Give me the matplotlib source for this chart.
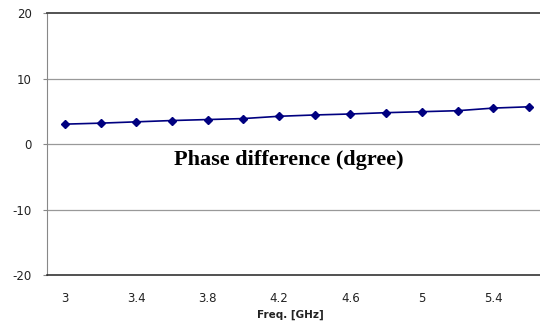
import numpy as np
import matplotlib.pyplot as plt

freq = [3.0, 3.2, 3.4, 3.6, 3.8, 4.0, 4.2, 4.4, 4.6, 4.8, 5.0, 5.2, 5.4, 5.6]
phase = [3.05, 3.2, 3.4, 3.6, 3.75, 3.9, 4.25, 4.45, 4.6, 4.8, 4.95, 5.1, 5.5, 5.7]
xticks = [3, 3.4, 3.8, 4.2, 4.6, 5, 5.4]
yticks = [-20, -10, 0, 10, 20]

fig = plt.figure(figsize=(5.4, 3.29), dpi=100)
ax = fig.add_axes([0.087, 0.164, 0.913, 0.796])

ax.plot(freq, phase, color='#000080', marker='D', markersize=4.5, linewidth=1.2)

ax.set_xlim(2.9, 5.662)
ax.set_ylim(-20, 20)
ax.set_xticks(xticks)
ax.set_xticklabels(['3', '3.4', '3.8', '4.2', '4.6', '5', '5.4'])
ax.set_yticks(yticks)
ax.set_yticklabels(['-20', '-10', '0', '10', '20'])
ax.tick_params(axis='x', length=0, pad=12, labelsize=8.5, labelcolor='#222222')
ax.tick_params(axis='y', length=3, width=0.8, color='#888888', pad=8,
               labelsize=8.5, labelcolor='#222222')

for y in [-10, 0, 10]:
    ax.axhline(y, color='#999999', linewidth=0.9, zorder=0)

ax.spines['left'].set_color('#888888')
ax.spines['top'].set_color('#444444')
ax.spines['top'].set_linewidth(1.3)
ax.spines['bottom'].set_color('#222222')
ax.spines['bottom'].set_linewidth(1.1)
ax.spines['right'].set_visible(False)

ax.text(4.256, -2.5, 'Phase difference (dgree)', family='Liberation Serif',
        fontweight='bold', fontsize=16, ha='center', va='center')

fig.text(290 / 540, 1 - 315 / 329, 'Freq. [GHz]', fontweight='bold', fontsize=7.5,
         ha='center', va='center', color='#222222')

plt.savefig('out.png')
